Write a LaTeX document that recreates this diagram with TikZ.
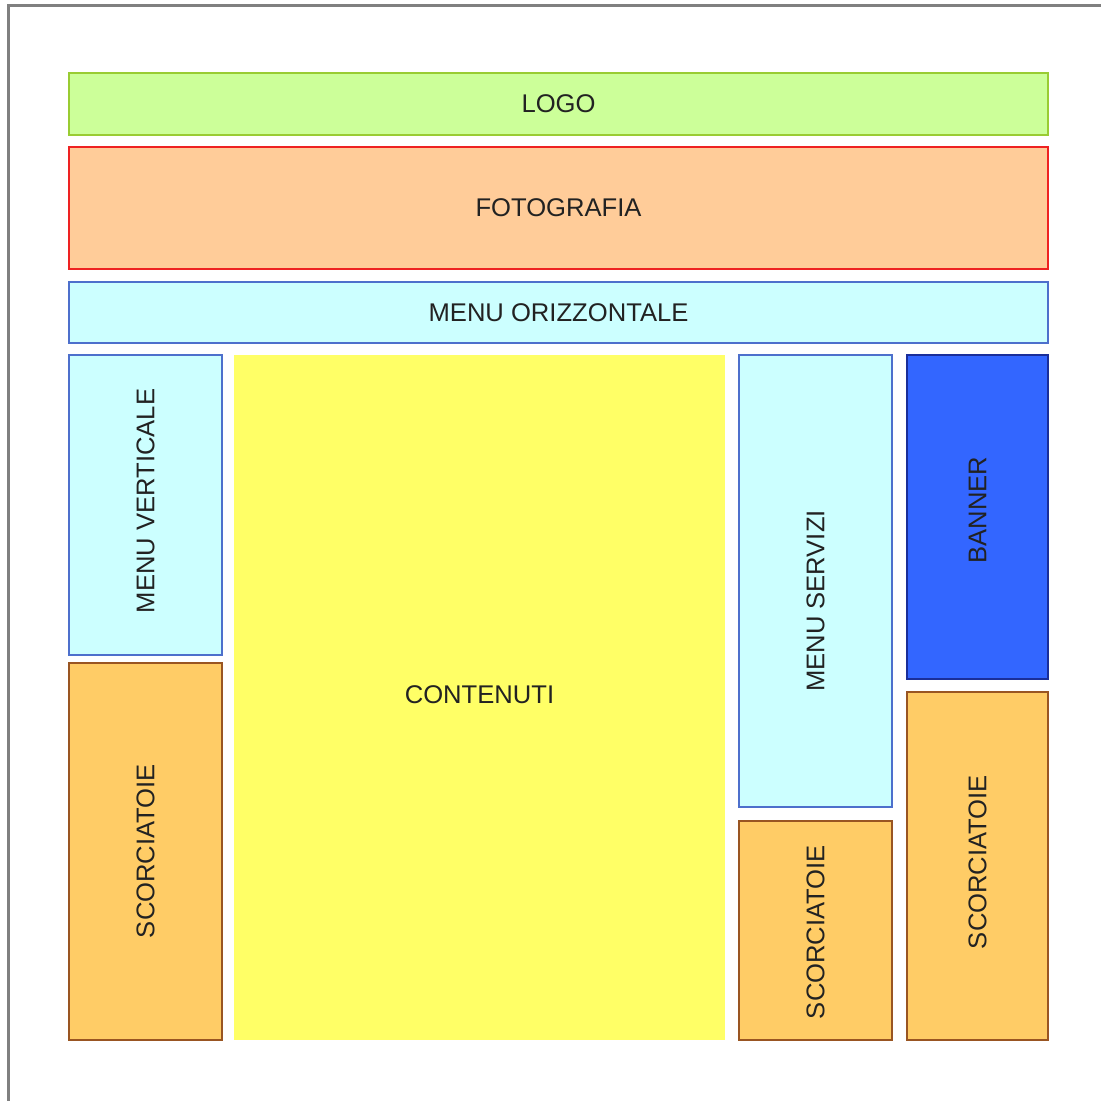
\documentclass[tikz,border=0pt]{standalone}
\usepackage{fontspec}
\setmainfont{Liberation Sans}
\usepackage{tikz}
\usetikzlibrary{positioning}

\definecolor{logofill}{HTML}{CCFF99}
\definecolor{logoline}{HTML}{99CC33}
\definecolor{fotofill}{HTML}{FFCC99}
\definecolor{fotoline}{HTML}{EE2222}
\definecolor{menufill}{HTML}{CCFFFF}
\definecolor{menuline}{HTML}{4D70CC}
\definecolor{testofill}{HTML}{FFFF66}
\definecolor{scorfill}{HTML}{FFCC66}
\definecolor{scorline}{HTML}{995522}
\definecolor{bannerfill}{HTML}{3366FF}
\definecolor{bannerline}{HTML}{1A2E99}
\definecolor{cornice}{HTML}{808080}
\definecolor{scritta}{HTML}{222222}

\begin{document}
\begin{tikzpicture}[x=0.5pt,y=-0.5pt,
 logo box/.style={fill=logofill,draw=logoline,line width=1pt},
 foto box/.style={fill=fotofill,draw=fotoline,line width=1pt},
 menu box/.style={fill=menufill,draw=menuline,line width=1pt},
 testo box/.style={fill=testofill},
 scor box/.style={fill=scorfill,draw=scorline,line width=1pt},
 banner box/.style={fill=bannerfill,draw=bannerline,line width=1pt},
 label/.style={font=\fontsize{12.8}{14}\selectfont,text=scritta,inner sep=0pt}]

  \useasboundingbox (0,0) rectangle (1101,1101);
  \draw[cornice,line width=1.5pt] (8,1101) -- (8,6) -- (1101,6);

  % header bands
  \foreach \n/\s/\xa/\ya/\xb/\yb/\t in {
    logo/logo box/69/73/1048/135/LOGO,
    foto/foto box/69/147/1048/269/FOTOGRAFIA,
    orizz/menu box/69/282/1048/343/MENU ORIZZONTALE} {
   \path[\s] (\xa,\ya) rectangle (\xb,\yb);
   \node[label] (\n) at ({(\xa+\xb)/2},{(\ya+\yb)/2}) {\t};}

  % columns
  \foreach \n/\s/\xa/\ya/\xb/\yb/\yt/\r/\t in {
    vert/menu box/69/355/222/655/501/90/MENU VERTICALE,
    scorsx/scor box/69/663/222/1040/851/90/SCORCIATOIE,
    contenuti/testo box/234/355/725/1040/695/0/CONTENUTI,
    servizi/menu box/739/355/892/807/601/90/MENU SERVIZI,
    scorcen/scor box/739/821/892/1040/932/90/SCORCIATOIE,
    banner/banner box/907/355/1048/679/510/90/BANNER,
    scordx/scor box/907/692/1048/1040/862/90/SCORCIATOIE} {
   \path[\s] (\xa,\ya) rectangle (\xb,\yb);
   \node[label,rotate=\r] (\n) at ({(\xa+\xb)/2},\yt) {\t};}

\end{tikzpicture}
\end{document}
